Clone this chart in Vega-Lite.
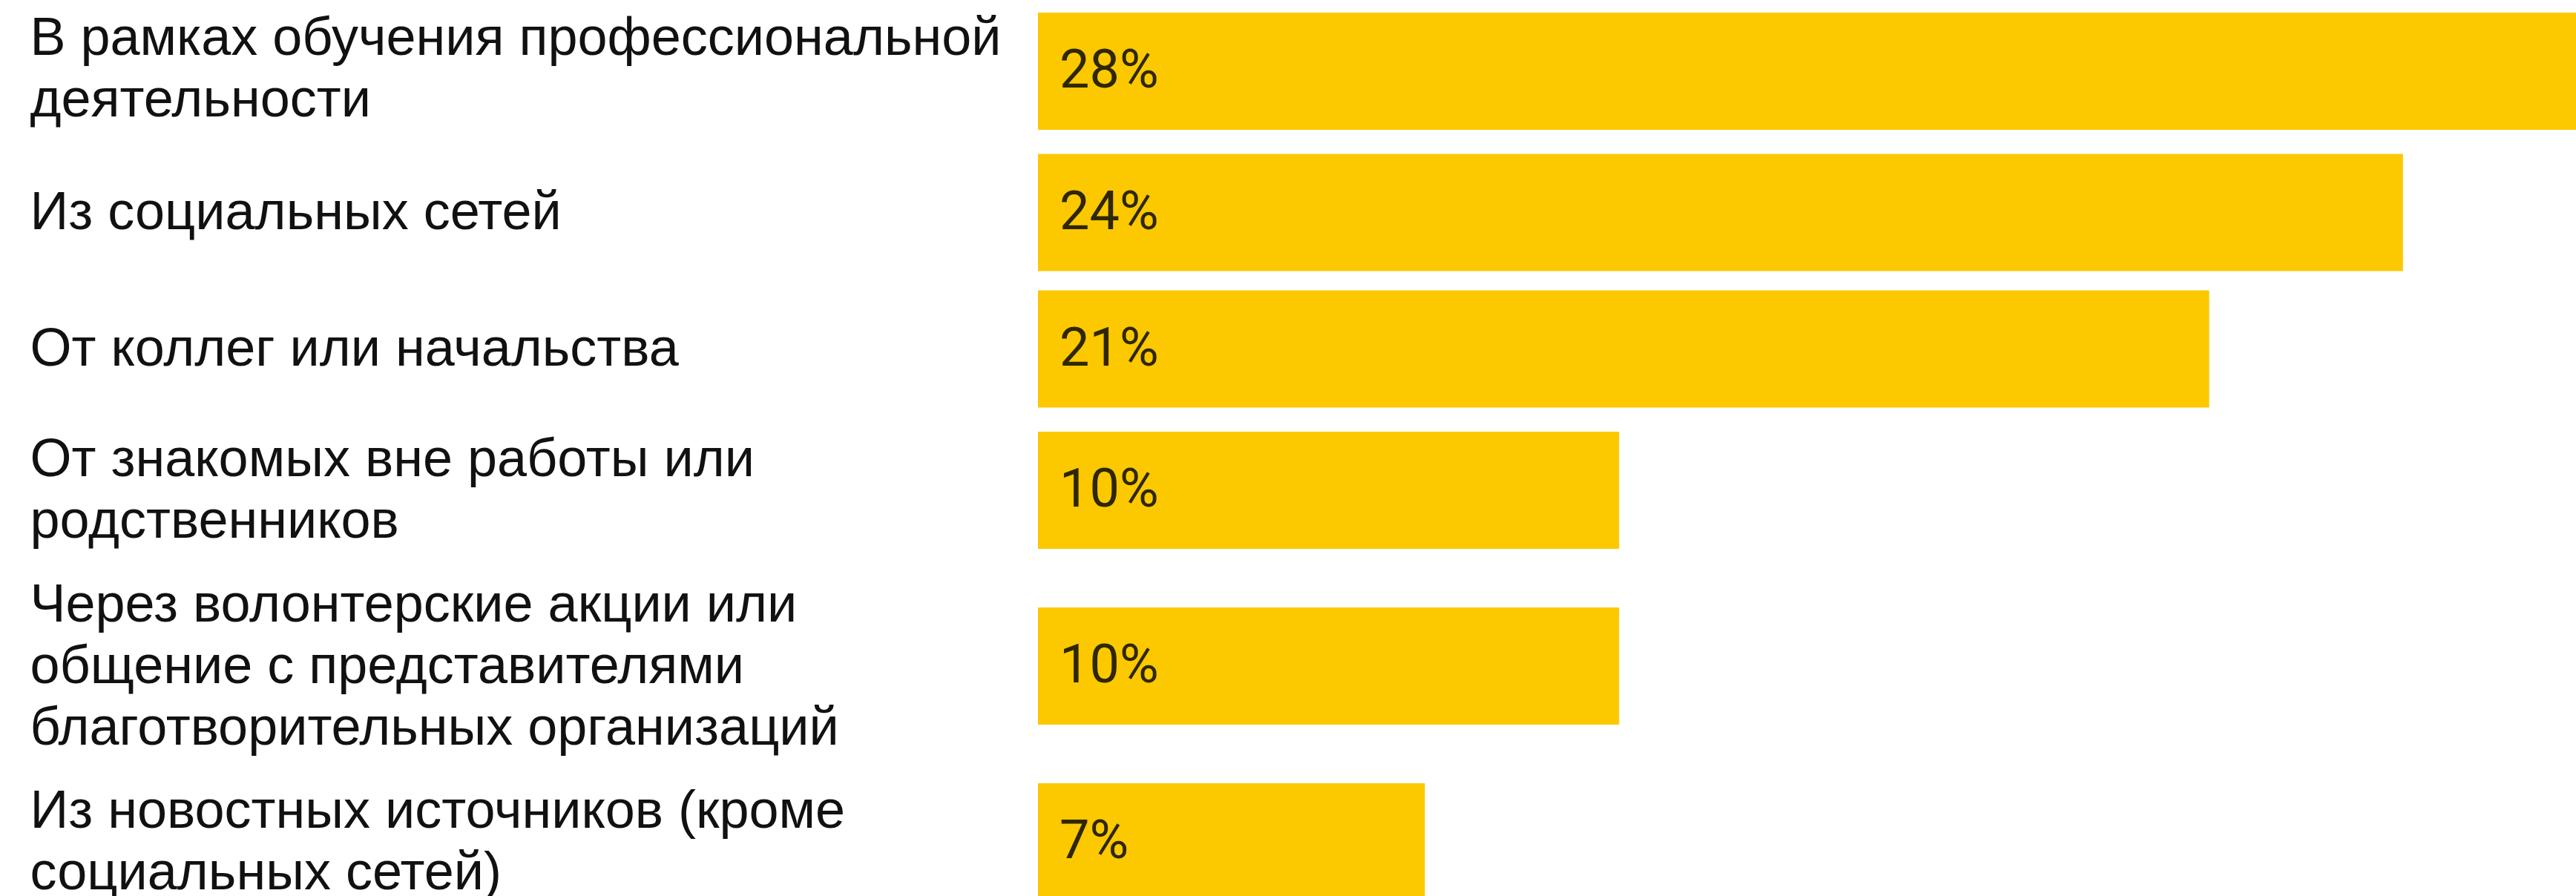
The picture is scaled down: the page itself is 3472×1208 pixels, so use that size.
{
  "$schema": "https://vega.github.io/schema/vega-lite/v6.json",
  "background": "white",
  "padding": {"left": 40, "top": 11, "right": 0, "bottom": 0},
  "autosize": {"type": "pad"},
  "bounds": "flush",
  "spacing": 27,
  "datasets": {
    "rows": [
      {"category": "В рамках обучения профессиональной\nдеятельности", "value": 27.9, "label": "28%"},
      {"category": "Из социальных сетей", "value": 24.45, "label": "24%"},
      {"category": "От коллег или начальства", "value": 20.98, "label": "21%"},
      {"category": "От знакомых вне работы или\nродственников", "value": 10.41, "label": "10%"},
      {"category": "Через волонтерские акции или\nобщение с представителями\nблаготворительных организаций", "value": 10.41, "label": "10%"},
      {"category": "Из новостных источников (кроме\nсоциальных сетей)", "value": 6.93, "label": "7%"}
    ]
  },
  "config": {
    "view": {"stroke": null},
    "axisY": {
      "orient": "left",
      "domain": false,
      "ticks": false,
      "tickSize": 0,
      "grid": false,
      "title": null,
      "labelAlign": "left",
      "labelBaseline": "middle",
      "labelPadding": 1359,
      "labelFont": "Liberation Sans",
      "labelFontSize": 72,
      "labelLineHeight": 83,
      "labelColor": "#111111",
      "labelLimit": 0,
      "labelExpr": "split(datum.label, '\\n')"
    }
  },
  "vconcat": [
    {
      "width": 2073, "height": 170,
      "data": {"name": "rows"},
      "transform": [{"filter": {"field": "category", "equal": "В рамках обучения профессиональной\nдеятельности"}}],
      "encoding": {"y": {"field": "category", "type": "nominal", "scale": {"paddingInner": 0, "paddingOuter": 0}, "axis": {"labelOffset": -44}}},
      "layer": [
        {"mark": {"type": "bar", "color": "#FCC800", "height": 158}, "encoding": {"x": {"field": "value", "type": "quantitative", "scale": {"domain": [0, 27.55], "nice": false, "zero": true, "clamp": true}, "axis": null}}},
        {"mark": {"type": "text", "align": "left", "baseline": "middle", "dx": 29, "fontSize": 72, "font": "Roboto", "color": "#2e2700"}, "encoding": {"x": {"datum": 0, "type": "quantitative"}, "text": {"field": "label"}}}
      ]
    },
    {
      "width": 2073, "height": 157,
      "data": {"name": "rows"},
      "transform": [{"filter": {"field": "category", "equal": "Из социальных сетей"}}],
      "encoding": {"y": {"field": "category", "type": "nominal", "scale": {"paddingInner": 0, "paddingOuter": 0}}},
      "layer": [
        {"mark": {"type": "bar", "color": "#FCC800", "height": 158}, "encoding": {"x": {"field": "value", "type": "quantitative", "scale": {"domain": [0, 27.55], "nice": false, "zero": true, "clamp": true}, "axis": null}}},
        {"mark": {"type": "text", "align": "left", "baseline": "middle", "dx": 29, "fontSize": 72, "font": "Roboto", "color": "#2e2700"}, "encoding": {"x": {"datum": 0, "type": "quantitative"}, "text": {"field": "label"}}}
      ]
    },
    {
      "width": 2073, "height": 157,
      "data": {"name": "rows"},
      "transform": [{"filter": {"field": "category", "equal": "От коллег или начальства"}}],
      "encoding": {"y": {"field": "category", "type": "nominal", "scale": {"paddingInner": 0, "paddingOuter": 0}}},
      "layer": [
        {"mark": {"type": "bar", "color": "#FCC800", "height": 158}, "encoding": {"x": {"field": "value", "type": "quantitative", "scale": {"domain": [0, 27.55], "nice": false, "zero": true, "clamp": true}, "axis": null}}},
        {"mark": {"type": "text", "align": "left", "baseline": "middle", "dx": 29, "fontSize": 72, "font": "Roboto", "color": "#2e2700"}, "encoding": {"x": {"datum": 0, "type": "quantitative"}, "text": {"field": "label"}}}
      ]
    },
    {
      "width": 2073, "height": 170,
      "data": {"name": "rows"},
      "transform": [{"filter": {"field": "category", "equal": "От знакомых вне работы или\nродственников"}}],
      "encoding": {"y": {"field": "category", "type": "nominal", "scale": {"paddingInner": 0, "paddingOuter": 0}, "axis": {"labelOffset": -41}}},
      "layer": [
        {"mark": {"type": "bar", "color": "#FCC800", "height": 158}, "encoding": {"x": {"field": "value", "type": "quantitative", "scale": {"domain": [0, 27.55], "nice": false, "zero": true, "clamp": true}, "axis": null}}},
        {"mark": {"type": "text", "align": "left", "baseline": "middle", "dx": 29, "fontSize": 72, "font": "Roboto", "color": "#2e2700"}, "encoding": {"x": {"datum": 0, "type": "quantitative"}, "text": {"field": "label"}}}
      ]
    },
    {
      "width": 2073, "height": 250,
      "data": {"name": "rows"},
      "transform": [{"filter": {"field": "category", "equal": "Через волонтерские акции или\nобщение с представителями\nблаготворительных организаций"}}],
      "encoding": {"y": {"field": "category", "type": "nominal", "scale": {"paddingInner": 0, "paddingOuter": 0}, "axis": {"labelOffset": -82}}},
      "layer": [
        {"mark": {"type": "bar", "color": "#FCC800", "height": 158}, "encoding": {"x": {"field": "value", "type": "quantitative", "scale": {"domain": [0, 27.55], "nice": false, "zero": true, "clamp": true}, "axis": null}}},
        {"mark": {"type": "text", "align": "left", "baseline": "middle", "dx": 29, "fontSize": 72, "font": "Roboto", "color": "#2e2700"}, "encoding": {"x": {"datum": 0, "type": "quantitative"}, "text": {"field": "label"}}}
      ]
    },
    {
      "width": 2073, "height": 170,
      "data": {"name": "rows"},
      "transform": [{"filter": {"field": "category", "equal": "Из новостных источников (кроме\nсоциальных сетей)"}}],
      "encoding": {"y": {"field": "category", "type": "nominal", "scale": {"paddingInner": 0, "paddingOuter": 0}, "axis": {"labelOffset": -41}}},
      "layer": [
        {"mark": {"type": "bar", "color": "#FCC800", "height": 158}, "encoding": {"x": {"field": "value", "type": "quantitative", "scale": {"domain": [0, 27.55], "nice": false, "zero": true, "clamp": true}, "axis": null}}},
        {"mark": {"type": "text", "align": "left", "baseline": "middle", "dx": 29, "fontSize": 72, "font": "Roboto", "color": "#2e2700"}, "encoding": {"x": {"datum": 0, "type": "quantitative"}, "text": {"field": "label"}}}
      ]
    }
  ]
}
